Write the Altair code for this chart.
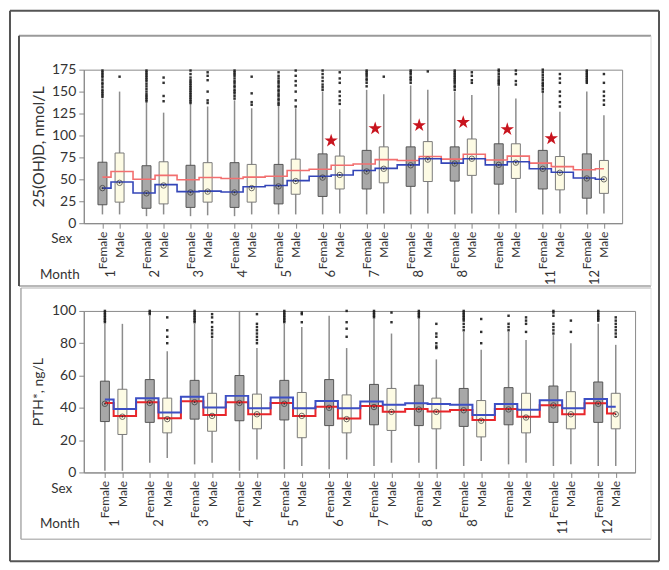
import altair as alt
import pandas as pd

FONT = "Lato"

MONTH_LABELS = ["1", "2", "3", "4", "5", "6", "7", "8", "8", "", "11", "12"]
SEXES = ["Female", "Male"]

# ---- 25(OH)D panel (order: F1, M1, F2, M2, ... F12, M12)
VD_Q1 = [21, 24, 17, 22, 18, 24, 18, 24, 22, 33, 30.5, 39, 39, 46, 42, 47.5, 48, 54.5, 44.5, 51, 39, 38, 28.5, 34]
VD_Q3 = [69.5, 80, 65.5, 70, 66, 69, 69, 67, 67, 73, 79, 76.5, 83, 87, 87, 93, 87, 96, 90.5, 90.5, 83, 76, 79, 71.5]
VD_LO = [10, 10, 8, 10, 8, 9, 8, 10, 10, 10, 10, 11, 10, 11, 10, 11, 10, 11, 10, 12, 10, 11, 10, 11]
VD_HI = [142, 150, 138, 126, 136, 133, 140, 131, 134, 131, 150, 130, 152, 147, 157, 152, 150, 146, 156, 142, 149, 127, 150, 123]
VD_MARK = [40, 46, 34, 43, 35, 36, 35, 40, 42, 48, 52, 55, 59, 62, 66, 72.5, 68, 73.5, 66.5, 69, 62, 57.5, 51, 50]
VD_BLUE = [40, 47, 34.5, 44, 36, 36.5, 35.5, 41.5, 43, 48.5, 53.5, 55, 60, 62.5, 66.5, 73.5, 68.5, 73.5, 66.5, 70, 62, 58, 51.5, 50]
VD_RED = [52.5, 59, 50, 54.5, 49.5, 52, 51, 52.5, 53.5, 60, 61.5, 66, 67.5, 72.5, 71.5, 76, 73, 78.5, 72, 76.5, 68.5, 64.5, 61, 62]
VD_OUT = [
    [144, 146, 148, 150, 152, 155, 158, 160, 163, 166, 168, 170, 172, 174],
    [167],
    [139, 141, 143, 145, 147, 150, 153, 156, 159, 162, 164, 166, 168, 170, 172, 174],
    [139, 145, 160, 166],
    [137, 139, 141, 143, 145, 147, 149, 151, 153, 155, 157, 159, 161, 163, 166, 170, 174],
    [137, 140, 150, 163, 168, 172],
    [142, 145, 148, 150, 152, 155, 157, 160, 162, 165, 168, 170, 172, 174],
    [135, 138, 148, 167],
    [135, 137, 140, 142, 145, 147, 150, 152, 155, 157, 160, 162, 165, 168, 172],
    [133, 140, 150, 157, 162, 168, 174],
    [152, 155, 158, 162, 166, 170, 174],
    [136, 140, 145, 150, 160, 165, 172],
    [156, 160, 163, 165, 168, 170, 172, 174],
    [167],
    [160, 163, 165, 167, 170, 172, 174],
    [173],
    [152, 155, 157, 160, 162, 164, 166, 168, 170, 172, 174],
    [160, 163, 168, 172],
    [158, 160, 162, 164, 167, 170, 173, 175],
    [158, 162, 170, 174],
    [150, 153, 156, 158, 160, 163, 166, 169, 172, 175],
    [133, 138, 145, 150, 160, 165, 170],
    [160, 162, 164, 166, 168, 170, 172, 174],
    [135, 140, 145, 150, 160, 170],
]
STAR_MONTHS = [6, 7, 8, 9, 10, 11]
STAR_VALUES = [94, 108, 111.5, 115, 107, 96.5]

# ---- PTH panel
PTH_Q1 = [31.5, 23.5, 31, 24.5, 33, 25.5, 32, 27, 32.5, 21.5, 29, 24.5, 29.5, 26, 29, 27, 28.5, 22, 29.5, 24.5, 31, 27, 31, 27]
PTH_Q3 = [56.5, 51.5, 57.5, 46, 57, 49, 60, 48.5, 57, 49.5, 57.5, 48, 54.5, 52, 54, 46, 52, 44.5, 52.5, 49, 53.5, 50, 56, 49]
PTH_LO = [1, 1, 6, 9, 5, 6, 1, 8, 2, 4, 2, 8, 4, 6, 6, 2, 4, 7, 5, 6, 4, 5, 4, 4]
PTH_HI = [92, 92, 97, 75, 92, 83, 100, 77, 92, 90, 97, 77, 95, 86, 95, 70, 87, 76, 87, 82, 85, 80, 92, 79]
PTH_MARK = [42.5, 34.5, 43, 33, 43.5, 35, 43, 36, 42.5, 35, 40, 33, 40.5, 37.5, 39, 37.5, 38.5, 32, 39, 34, 41.5, 36, 42.5, 36]
PTH_RED = [43, 35, 43.5, 33.5, 44, 35.5, 43.5, 36, 43, 35, 40.6, 33.4, 41.2, 37.5, 39.2, 37.7, 38.6, 32.4, 39.2, 34.4, 41.6, 36, 42.9, 36.5]
PTH_BLUE = [45.2, 39.2, 46, 37.1, 46.8, 40.2, 47.4, 39.8, 46.4, 39.8, 44.3, 39.8, 43.9, 41.9, 42.9, 42.3, 41.9, 35.5, 42.3, 38.8, 44.7, 39.8, 45.4, 40.6]
PTH_OUT = [
    [93, 94, 95, 96, 97, 98, 99, 100],
    [],
    [98, 99, 100],
    [80, 84, 88, 96],
    [93, 94, 95, 96, 97, 98, 99, 100],
    [84, 86, 88, 90, 93, 96, 98],
    [],
    [80, 82, 84, 86, 88, 90, 92, 98],
    [93, 94, 95, 96, 97, 98, 99, 100],
    [93, 98, 99],
    [],
    [84, 89, 93, 100],
    [96, 97, 98, 99, 100],
    [93, 99],
    [96, 97, 98, 99, 100],
    [77, 78, 80, 84, 86, 92],
    [88, 90, 92, 94, 95, 96, 97, 98, 99, 100],
    [80, 87, 95],
    [88, 90, 92, 97],
    [87, 92, 94, 96],
    [86, 88, 90, 92, 97, 99, 100],
    [87, 94],
    [94, 95, 96, 97, 98, 99, 100],
    [84, 86, 88, 90, 92, 94, 96],
]

STAR_PATH = ("M0,-1L0.2245,-0.309L0.9511,-0.309L0.3633,0.118L0.5878,0.809L0,0.382"
             "L-0.5878,0.809L-0.3633,0.118L-0.9511,-0.309L-0.2245,-0.309Z")


def box_frame(q1, q3, lo, hi, mark, blue, red, offs):
    rows = []
    for k in range(24):
        m, s = divmod(k, 2)
        rows.append({"pos": m + offs[s], "sex": SEXES[s], "q1": q1[k], "q3": q3[k],
                     "lo": lo[k], "hi": hi[k], "mark": mark[k], "blue": blue[k], "red": red[k]})
    return pd.DataFrame(rows)


def out_frame(outs, offs):
    rows = []
    for k, vals in enumerate(outs):
        m, s = divmod(k, 2)
        for v in vals:
            rows.append({"pos": m + offs[s], "v": v})
    return pd.DataFrame(rows)


def rule(x1, x2, y1, y2, color, sw):
    one = pd.DataFrame({"a": [0]})
    return alt.Chart(one).mark_rule(color=color, strokeWidth=sw).encode(
        x=alt.value(x1), x2=alt.value(x2), y=alt.value(y1), y2=alt.value(y2))


def panel(box, outl, title, dom, step, w, h, xdom, red_col, blue_col, lw,
          title_size, frames, sex_dy, stars=None):
    xs = alt.Scale(domain=xdom, nice=False, zero=False)
    ys = alt.Scale(domain=dom, nice=False)
    xaxis = alt.Axis(values=list(box["pos"]),
                     labelExpr="(datum.value % 1) < 0.5 ? 'Female' : 'Male'",
                     labelAngle=270, labelAlign="right", labelBaseline="middle",
                     labelOverlap=False, labelFlush=False, title=None, grid=False,
                     tickSize=5, tickColor="#888", domainColor="#888",
                     labelPadding=3, labelFontSize=12, labelFont=FONT, labelColor="#333")
    yaxis = alt.Axis(values=list(range(dom[0], dom[1] + 1, step)), title=title,
                     titleFont=FONT, titleFontSize=title_size, titleFontWeight="normal",
                     titleColor="#333", titleAngle=270, titleX=-45, titleY=h / 2,
                     titleAlign="center", titleBaseline="middle",
                     labelFont=FONT, labelFontSize=14, labelColor="#333",
                     tickSize=5, tickColor="#888", domainColor="#888", grid=False,
                     labelPadding=3)
    X = alt.X("pos:Q", scale=xs, axis=xaxis)

    def Y(field):
        return alt.Y(field, type="quantitative", scale=ys, axis=yaxis)

    base = alt.Chart(box)
    whisk = base.mark_rule(color="#8c8c8c", strokeWidth=1.5).encode(x=X, y=Y("lo"), y2="hi")
    boxes = base.mark_bar(orient="vertical", size=9, strokeWidth=1).encode(
        x=X, y=Y("q1"), y2="q3",
        color=alt.Color("sex:N", scale=alt.Scale(domain=SEXES, range=["#a8a8a8", "#fdfbe4"]), legend=None),
        stroke=alt.Stroke("sex:N", scale=alt.Scale(domain=SEXES, range=["#555555", "#7a7a7a"]), legend=None))
    outs = alt.Chart(outl).mark_square(size=6, color="#1a1a1a", opacity=0.9).encode(x=X, y=Y("v"))
    red = base.mark_line(interpolate="step", color=red_col, strokeWidth=lw).encode(x=X, y=Y("red"))
    blue = base.mark_line(interpolate="step", color=blue_col, strokeWidth=lw).encode(x=X, y=Y("blue"))
    circ = base.mark_point(shape="circle", filled=False, size=30, color="#333", strokeWidth=1).encode(x=X, y=Y("mark"))
    dot = base.mark_point(shape="circle", filled=True, size=3, color="#333", opacity=1).encode(x=X, y=Y("mark"))

    mdf = pd.DataFrame({"pos": [i + 0.505 for i in range(12)], "label": MONTH_LABELS})
    mlab = alt.Chart(mdf).mark_text(angle=270, align="right", baseline="middle", fontSize=13,
                                    font=FONT, color="#333").encode(
        x=X, y=alt.value(h + 47), text="label:N")
    tdf = pd.DataFrame({"t": ["Sex", "Month"], "xx": [-22, -24], "yy": [h + sex_dy, h + 52]})
    tl = alt.Chart(tdf).mark_text(align="center", baseline="middle", fontSize=13.5, font=FONT,
                                  color="#333").encode(
        x=alt.X("xx:Q", scale=None, axis=None), y=alt.Y("yy:Q", scale=None, axis=None), text="t:N")

    layers = [rule(*f) for f in frames]
    layers += [whisk, boxes, outs, red, blue, circ, dot]
    if stars is not None:
        st = alt.Chart(stars).mark_point(shape=STAR_PATH, filled=True, size=200, color="#c8141e",
                                         opacity=1, strokeWidth=0).encode(x=X, y=Y("v"))
        layers.append(st)
    layers += [mlab, tl]
    return alt.layer(*layers).properties(width=w, height=h)


TOP_W, TOP_H = 540, 154
BOT_W, BOT_H = 553, 162

vd_box = box_frame(VD_Q1, VD_Q3, VD_LO, VD_HI, VD_MARK, VD_BLUE, VD_RED, (0.311, 0.70))
vd_out = out_frame(VD_OUT, (0.311, 0.70))
star_df = pd.DataFrame({"pos": [m - 1 + 0.505 for m in STAR_MONTHS], "v": STAR_VALUES})
pth_box = box_frame(PTH_Q1, PTH_Q3, PTH_LO, PTH_HI, PTH_MARK, PTH_BLUE, PTH_RED, (0.29, 0.68))
pth_out = out_frame(PTH_OUT, (0.29, 0.68))

top_frames = [
    (-74, 577, -59, -59, "#555555", 2),
    (-74, 577, 493, 493, "#555555", 2),
    (-74, -74, -59, 493, "#555555", 2),
    (577, 577, -59, 493, "#555555", 2),
    (-65, 569, -34, -34, "#9a9a9a", 2),
    (-65, 569, 217, 217, "#a0a0a0", 1.5),
    (569, 569, -34, 217, "#d8d8d8", 1),
    (-65, -65, -34, 217, "#505050", 2),
]
bot_frames = [
    (-63, 569, -23, -23, "#cccccc", 1.5),
    (-63, 569, 229, 229, "#bbbbbb", 1.5),
    (569, 569, -23, 229, "#e0e0e0", 1),
    (-63, -63, -23, 229, "#aaaaaa", 1.5),
]

top = panel(vd_box, vd_out, "25(OH)D, nmol/L", (0, 175), 25, TOP_W, TOP_H, [0, 12],
            "#f26f6f", "#3446b8", 1.6, 16, top_frames, 16, star_df)
bottom = panel(pth_box, pth_out, "PTH*, ng/L", (0, 100), 20, BOT_W, BOT_H, [-0.07, 12],
               "#e8262b", "#3d4fc4", 2, 14, bot_frames, 17)

chart = alt.vconcat(top, bottom, spacing=88, bounds="flush").properties(
    padding=0, background="white"
).configure_view(stroke="#8a8a8a", strokeWidth=1)

chart.save("out.html", embed_options={"renderer": "svg", "actions": False})
